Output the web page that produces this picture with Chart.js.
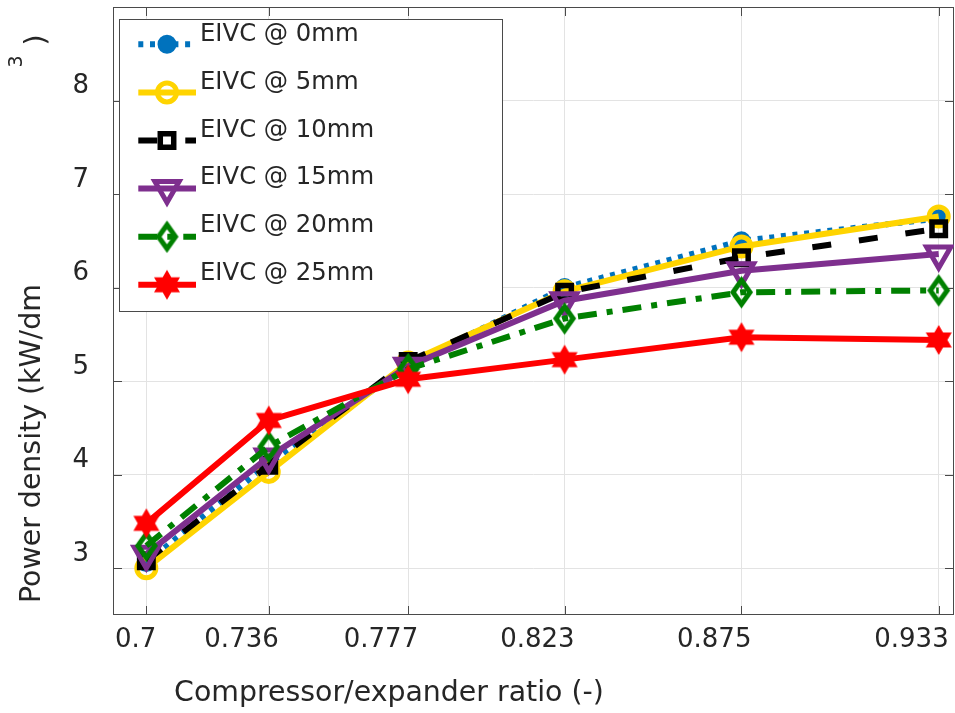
<!DOCTYPE html>
<html>
<head>
<meta charset="utf-8">
<title>Power density vs compressor/expander ratio</title>
<script src="https://cdn.jsdelivr.net/npm/chart.js@4.4.1/dist/chart.umd.min.js"></script>
<style>
  html, body { margin: 0; padding: 0; background: #fff; }
  #wrap { width: 955px; height: 713px; }
</style>
</head>
<body>
<div id="wrap"><canvas id="chart" width="955" height="713"></canvas></div>
<script>
// compressor/expander ratio and its tick labels
const xValues = [0.7, 0.736, 0.777, 0.823, 0.875, 0.933];
const xTickLabels = ['0.7', '0.736', '0.777', '0.823', '0.875', '0.933'];
const yTickValues = [3, 4, 5, 6, 7, 8];

// power density (kW/dm3) per EIVC lift
const eivc0  = [3.06, 4.12, 5.17, 6.00, 6.50, 6.74];
const eivc5  = [3.00, 4.03, 5.20, 5.96, 6.44, 6.76];
const eivc10 = [3.08, 4.10, 5.21, 5.95, 6.32, 6.63];
const eivc15 = [3.15, 4.19, 5.16, 5.86, 6.18, 6.36];
const eivc20 = [3.24, 4.30, 5.13, 5.67, 5.95, 5.97];
const eivc25 = [3.48, 4.58, 5.02, 5.23, 5.47, 5.44];

const seriesNames = ['EIVC @ 0mm', 'EIVC @ 5mm', 'EIVC @ 10mm', 'EIVC @ 15mm', 'EIVC @ 20mm', 'EIVC @ 25mm'];

const TEXT_COLOR = '#262626';
const AXIS_COLOR = '#4a4a4a';
const FONT = '"DejaVu Sans"';

// filled hexagram marker
function makeHexagram(color, R) {
  const c = document.createElement('canvas');
  c.width = c.height = Math.ceil(R * 2 + 4);
  const g = c.getContext('2d');
  const cx = c.width / 2, cy = c.height / 2, r = R / Math.sqrt(3);
  g.beginPath();
  for (let i = 0; i < 12; i++) {
    const a = -Math.PI / 2 + i * Math.PI / 6;
    const rr = i % 2 === 0 ? R : r;
    g.lineTo(cx + Math.cos(a) * rr, cy + Math.sin(a) * rr);
  }
  g.closePath();
  g.fillStyle = color;
  g.fill();
  return c;
}

// open diamond, taller than wide
function makeDiamond(color, hw, hh, lw) {
  const c = document.createElement('canvas');
  c.width = Math.ceil((hw + lw * 2) * 2);
  c.height = Math.ceil((hh + lw * 2) * 2);
  const g = c.getContext('2d');
  const cx = c.width / 2, cy = c.height / 2;
  g.beginPath();
  g.moveTo(cx, cy - hh);
  g.lineTo(cx + hw, cy);
  g.lineTo(cx, cy + hh);
  g.lineTo(cx - hw, cy);
  g.closePath();
  g.lineJoin = 'miter';
  g.lineWidth = lw;
  g.strokeStyle = color;
  g.stroke();
  return c;
}

const hexRed = makeHexagram('#ff0000', 15);
const diamondGreen = makeDiamond('#008000', 8.5, 12, 5);

const styles = [
  { color: '#0072bd', dash: [5, 6.7], pointStyle: 'circle', radius: 8, borderWidth: 3, fill: '#0072bd', rotation: 0 },
  { color: '#ffd400', dash: [], pointStyle: 'circle', radius: 9.5, borderWidth: 5, fill: 'transparent', rotation: 0 },
  { color: '#000000', dash: [19, 28], pointStyle: 'rect', radius: 9.5, borderWidth: 5.5, fill: 'transparent', rotation: 0 },
  { color: '#7e2f8e', dash: [], pointStyle: 'triangle', radius: 14, borderWidth: 5, fill: 'transparent', rotation: 180 },
  { color: '#008000', dash: [19, 10, 6, 10], pointStyle: diamondGreen, radius: 12, borderWidth: 0, fill: 'transparent', rotation: 0 },
  { color: '#ff0000', dash: [], pointStyle: hexRed, radius: 15, borderWidth: 0, fill: '#ff0000', rotation: 0 }
];

const allSeries = [eivc0, eivc5, eivc10, eivc15, eivc20, eivc25];

const datasets = allSeries.map((vals, i) => {
  const s = styles[i];
  return {
    label: seriesNames[i],
    data: vals.map((v, j) => ({ x: xValues[j], y: v })),
    borderColor: s.color,
    backgroundColor: s.color,
    borderWidth: 6,
    borderDash: s.dash,
    borderCapStyle: 'butt',
    borderJoinStyle: 'miter',
    tension: 0,
    pointStyle: s.pointStyle,
    pointRadius: s.radius,
    pointHoverRadius: s.radius,
    pointRotation: s.rotation,
    pointBorderWidth: s.borderWidth,
    pointBorderColor: s.color,
    pointBackgroundColor: s.fill,
    order: allSeries.length - i  // later series drawn on top
  };
});

// box around the axes with inward tick marks
const frame = {
  id: 'frame',
  beforeDatasetsDraw(chart) {
    const { ctx, chartArea: a, scales: { x, y } } = chart;
    ctx.save();
    ctx.strokeStyle = AXIS_COLOR;
    ctx.lineWidth = 1;
    ctx.strokeRect(a.left + 0.5, a.top + 0.5, a.right - a.left - 1, a.bottom - a.top - 1);
    ctx.beginPath();
    xValues.forEach(v => {
      const px = Math.round(x.getPixelForValue(v)) + 0.5;
      ctx.moveTo(px, a.bottom); ctx.lineTo(px, a.bottom - 9);
      ctx.moveTo(px, a.top); ctx.lineTo(px, a.top + 9);
    });
    yTickValues.forEach(v => {
      const py = Math.round(y.getPixelForValue(v)) + 0.5;
      ctx.moveTo(a.left, py); ctx.lineTo(a.left + 9, py);
      ctx.moveTo(a.right, py); ctx.lineTo(a.right - 9, py);
    });
    ctx.stroke();
    ctx.restore();
  }
};

// legend box in the upper left corner
const legendBox = {
  id: 'legendBox',
  afterDatasetsDraw(chart) {
    const ctx = chart.ctx;
    ctx.save();
    ctx.fillStyle = '#ffffff';
    ctx.fillRect(119.5, 19.5, 383, 292);
    ctx.strokeStyle = AXIS_COLOR;
    ctx.lineWidth = 1;
    ctx.strokeRect(119.5, 19.5, 383, 292);

    styles.forEach((s, i) => {
      const ly = 44.3 + i * 48.1;
      ctx.save();
      ctx.strokeStyle = s.color;
      ctx.lineWidth = 6;
      ctx.lineCap = 'butt';
      ctx.setLineDash(s.dash);
      ctx.beginPath();
      ctx.moveTo(138.3, ly);
      ctx.lineTo(196, ly);
      ctx.stroke();
      ctx.setLineDash([]);
      ctx.fillStyle = s.fill;
      ctx.lineWidth = s.borderWidth;
      Chart.helpers.drawPoint(ctx, {
        pointStyle: s.pointStyle, radius: s.radius,
        rotation: s.rotation, borderWidth: s.borderWidth
      }, 167, ly);
      ctx.restore();

      ctx.fillStyle = TEXT_COLOR;
      ctx.font = '24.3px ' + FONT;
      ctx.textAlign = 'left';
      ctx.textBaseline = 'alphabetic';
      ctx.fillText(seriesNames[i], 200, 40.7 + i * 47.9);
    });
    ctx.restore();
  }
};

// axis titles
const axisTitles = {
  id: 'axisTitles',
  afterDraw(chart) {
    const ctx = chart.ctx;
    ctx.save();
    ctx.fillStyle = TEXT_COLOR;
    ctx.textBaseline = 'alphabetic';

    ctx.font = '28.4px ' + FONT;
    ctx.textAlign = 'center';
    ctx.fillText('Compressor/expander ratio (-)', 389, 701);

    ctx.textAlign = 'left';
    ctx.save();
    ctx.translate(39.5, 603);
    ctx.rotate(-Math.PI / 2);
    ctx.fillText('Power density (kW/dm', 0, 0);
    ctx.restore();

    ctx.save();
    ctx.font = '19px ' + FONT;
    ctx.translate(21.7, 67.5);
    ctx.rotate(-Math.PI / 2);
    ctx.fillText('3', 0, 0);
    ctx.restore();

    ctx.save();
    ctx.translate(45, 45.5);
    ctx.rotate(-Math.PI / 2);
    ctx.fillText(')', 0, 0);
    ctx.restore();

    ctx.restore();
  }
};

new Chart(document.getElementById('chart'), {
  type: 'line',
  data: { datasets },
  plugins: [frame, legendBox, axisTitles],
  options: {
    responsive: false,
    animation: false,
    devicePixelRatio: 1,
    layout: { autoPadding: false, padding: { top: 7, right: 1, left: 0, bottom: 0 } },
    plugins: { legend: { display: false }, tooltip: { enabled: false } },
    scales: {
      x: {
        type: 'linear',
        min: 0.6902,
        max: 0.9375,
        afterBuildTicks: axis => { axis.ticks = xValues.map(v => ({ value: v })); },
        afterFit: axis => { axis.height = 98; axis.paddingLeft = 0; axis.paddingRight = 0; },
        grid: { color: '#e3e3e3', lineWidth: 1, drawTicks: false },
        border: { display: false },
        ticks: {
          autoSkip: false,
          maxRotation: 0,
          minRotation: 0,
          align: 'end',
          labelOffset: 10,
          padding: 10,
          color: TEXT_COLOR,
          font: { family: 'DejaVu Sans', size: 26 },
          callback: (value, index) => xTickLabels[index]
        }
      },
      y: {
        type: 'linear',
        min: 2.5,
        max: 9,
        afterBuildTicks: axis => { axis.ticks = yTickValues.map(v => ({ value: v })); },
        afterFit: axis => { axis.width = 113; axis.paddingTop = 0; axis.paddingBottom = 0; },
        grid: { color: '#e3e3e3', lineWidth: 1, drawTicks: false },
        border: { display: false },
        ticks: {
          padding: 24,
          labelOffset: -14,
          color: TEXT_COLOR,
          font: { family: 'DejaVu Sans', size: 26 },
          callback: value => String(value)
        }
      }
    }
  }
});
</script>
</body>
</html>
